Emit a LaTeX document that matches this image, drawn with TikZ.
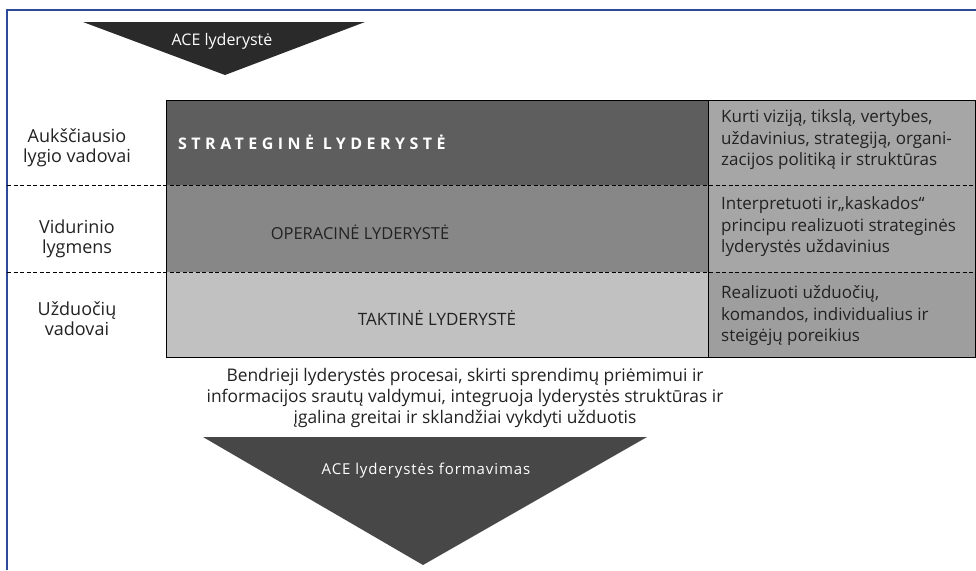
\documentclass[tikz,border=0pt]{standalone}
\usepackage{fontspec}
\setmainfont{Open Sans}
\begin{document}
\begin{tikzpicture}[x=1pt,y=-1pt,
  frameline/.style={draw=frameblue,line width=1.2pt},
  divider/.style={draw=black,line width=0.8pt,dash pattern=on 4pt off 2.5pt},
  leftlabel/.style={align=center,text=labeltext,font=\fontsize{18}{20}\selectfont,inner sep=0pt},
  desc/.style={align=left,anchor=west,text=labeltext,font=\fontsize{17}{21.5}\selectfont,inner sep=0pt},
  bandtitle/.style={text=labeltext,font=\fontsize{16.5}{18}\selectfont,inner sep=0pt},
  arrowtext/.style={text=white,font=\fontsize{16}{18}\selectfont,inner sep=0pt}]
\definecolor{frameblue}{HTML}{2E4A9A}
\definecolor{labeltext}{HTML}{222222}
\definecolor{topfill}{HTML}{2A2A2A}
\definecolor{bottomfill}{HTML}{474747}
\definecolor{rowA}{HTML}{5E5E5E}
\definecolor{rowB}{HTML}{878787}
\definecolor{rowC}{HTML}{C1C1C1}
\definecolor{sideA}{HTML}{A6A6A6}
\definecolor{sideB}{HTML}{A6A6A6}
\definecolor{sideC}{HTML}{9E9E9E}
\useasboundingbox (0,0) rectangle (976,570);
\fill[white] (0,0) rectangle (976,570);

% page frame
\draw[frameline] (7,570) -- (7,10) -- (976,10);

% top arrow
\fill[topfill] (83,22) -- (365,22) -- (225,75) -- cycle;
\node[arrowtext] (acetop) at (222,41) {ACE lyderystė};

% level bands
\fill[rowA] (166,100) rectangle (708,185);
\fill[sideA] (708,100) rectangle (975,185);
\fill[rowB] (166,185) rectangle (708,272);
\fill[sideB] (708,185) rectangle (975,272);
\fill[rowC] (166,272) rectangle (708,357);
\fill[sideC] (708,272) rectangle (975,357);
\draw[black,line width=0.9pt] (166,100) rectangle (975,357);
\draw[black,line width=0.9pt] (708,100) -- (708,357);
\draw[divider] (7,185) -- (975,185);
\draw[divider] (7,272) -- (975,272);

% level labels
\node[leftlabel] (lvtop) at (77,148) {Aukščiausio\\lygio vadovai};
\node[leftlabel] (lvmid) at (77,239) {Vidurinio\\lygmens};
\node[leftlabel] (lvlow) at (77,319) {Užduočių\\vadovai};

% band titles
\node[anchor=west,inner sep=0pt,text=white,
      font=\fontsize{16}{18}\bfseries\addfontfeature{LetterSpace=28}\selectfont]
      (strat) at (178,142) {STRATEGINĖ LYDERYSTĖ};
\node[bandtitle] (oper) at (360,232) {OPERACINĖ LYDERYSTĖ};
\node[bandtitle,font=\fontsize{17}{18}\selectfont] (takt) at (437,318) {TAKTINĖ LYDERYSTĖ};

% band descriptions
\node[desc] (dstrat) at (721,140) {Kurti viziją, tikslą, vertybes,\\uždavinius, strategiją, organi-\\zacijos politiką ir struktūras};
\node[desc] (doper) at (721,227) {Interpretuoti ir„kaskados“\\principu realizuoti strateginės\\lyderystės uždavinius};
\node[desc] (dtakt) at (721,316) {Realizuoti užduočių,\\komandos, individualius ir\\steigėjų poreikius};

% shared processes
\node[align=center,text=labeltext,font=\fontsize{17.4}{21}\selectfont,inner sep=0pt]
  (procs) at (465,398) {Bendrieji lyderystės procesai, skirti sprendimų priėmimui ir\\informacijos srautų valdymui, integruoja lyderystės struktūras ir\\įgalina greitai ir sklandžiai vykdyti užduotis};

% bottom arrow
\fill[bottomfill] (203,437) -- (647,437) -- (423,565) -- cycle;
\node[arrowtext,font=\fontsize{15}{18}\addfontfeature{LetterSpace=6}\selectfont] (acebot) at (426,471) {ACE lyderystės formavimas};
\end{tikzpicture}
\end{document}
